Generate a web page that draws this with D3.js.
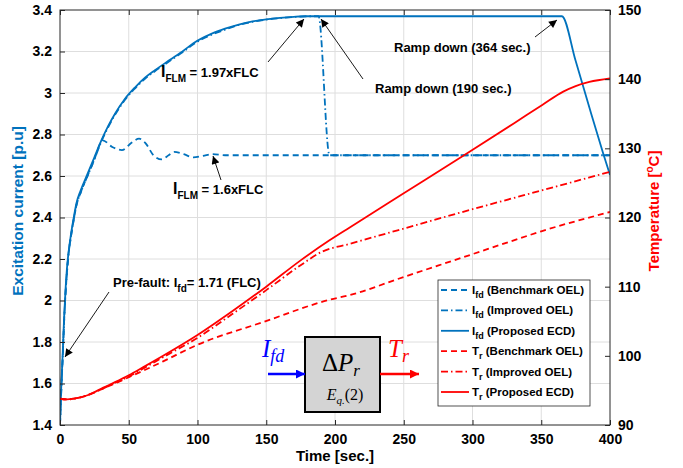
<!DOCTYPE html>
<html><head><meta charset="utf-8">
<script src="https://cdn.jsdelivr.net/npm/d3@7"></script>
<style>body{margin:0;background:#fff}svg{display:block}</style>
</head><body><svg id="c" width="683" height="468"></svg>
<script>
// ---------- data ----------
const xTicks = [0, 50, 100, 150, 200, 250, 300, 350, 400];
const yLeftTicks = [1.4, 1.6, 1.8, 2, 2.2, 2.4, 2.6, 2.8, 3, 3.2, 3.4];
const yRightTicks = [90, 100, 110, 120, 130, 140, 150];

// Excitation current, proposed ECD (solid)
const ifdEcdT = [0,1,2,3,4,5,6,8,10,12,15,20,25,30,35,40,47,55,62,69,80,90,97,110,120,130,140,150,160,170,180,200,250,300,350,365,375,385,395,400];
const ifdEcdV = [1.4,1.6,1.75,1.92,2.05,2.15,2.22,2.32,2.4,2.47,2.53,2.61,2.69,2.77,2.84,2.9,2.97,3.03,3.075,3.11,3.16,3.205,3.24,3.285,3.31,3.33,3.345,3.355,3.362,3.367,3.37,3.37,3.37,3.37,3.37,3.37,3.155,2.93,2.71,2.605];
// Excitation current, improved OEL (dash-dot)
const ifdImpT = [0,1,2,3,4,5,6,8,10,12,15,20,25,30,35,40,47,55,62,69,80,90,97,110,120,130,140,150,160,170,180,188,196,250,300,350,400];
const ifdImpV = [1.4,1.58,1.73,1.9,2.03,2.13,2.21,2.31,2.39,2.46,2.52,2.6,2.68,2.765,2.835,2.895,2.965,3.025,3.07,3.105,3.155,3.2,3.235,3.28,3.305,3.328,3.343,3.354,3.361,3.366,3.37,3.37,2.70,2.70,2.70,2.70,2.70];
// Excitation current, benchmark OEL (dashed)
const ifdBenT = [0,1,2,3,4,5,6,8,10,12,15,20,25,30,31,38,45,52,57.5,62,68,74,79,83,90,97,104,111,120,200,300,400];
const ifdBenV = [1.4,1.58,1.73,1.9,2.03,2.13,2.21,2.31,2.39,2.46,2.52,2.6,2.68,2.765,2.772,2.74,2.725,2.76,2.78,2.76,2.70,2.68,2.70,2.716,2.705,2.69,2.697,2.705,2.70,2.70,2.70,2.70];

// Temperature, proposed ECD (solid)
const trEcdT = [0,5,10,20,31.5,40,50,60,75,100,125,150,175,196,211,250,293,330,351,366,375,385,400];
const trEcdV = [93.8,93.7,93.8,94.3,95.4,96.2,97.2,98.3,100.0,103.0,106.4,110.0,113.8,116.7,118.6,123.5,128.9,133.6,136.3,138.2,139.0,139.6,140.1];
// Temperature, improved OEL (dash-dot)
const trImpT = [0,5,10,20,31.5,40,50,60,75,100,125,150,175,190,211,250,300,350,400];
const trImpV = [93.8,93.7,93.8,94.3,95.3,96.1,97.0,98.1,99.8,102.6,106.0,109.5,113.1,115.0,116.2,118.4,121.2,123.9,126.6];
// Temperature, benchmark OEL (dashed)
const trBenT = [0,5,10,20,31.5,40,50,60,75,100,148,196,211,250,300,327,350,400];
const trBenV = [93.8,93.7,93.8,94.3,95.3,96.0,96.9,97.8,99.2,101.6,104.9,108.1,108.8,111.4,114.7,116.5,118.0,120.8];

const legendLabels = [
  ["I","fd"," (Benchmark OEL)"],
  ["I","fd"," (Improved OEL)"],
  ["I","fd"," (Proposed ECD)"],
  ["T","r"," (Benchmark OEL)"],
  ["T","r"," (Improved OEL)"],
  ["T","r"," (Proposed ECD)"]
];

// ---------- layout ----------
const L = 60, R = 610, T = 10, B = 425;
const BLUE = "#0072BD", RED = "#FF0000";
const DASH = "6,4", DASHDOT = "7,3,1.5,3";
const FONT = "'Liberation Sans', Arial, Helvetica, sans-serif";
const SERIF = "'Liberation Serif', 'DejaVu Serif', serif";

const svg = d3.select("#c");
const x = d3.scaleLinear().domain([0, 400]).range([L, R]);
const yL = d3.scaleLinear().domain([1.4, 3.4]).range([B, T]);
const yR = d3.scaleLinear().domain([90, 150]).range([B, T]);

const defs = svg.append("defs");
defs.append("clipPath").attr("id","clip").append("rect")
  .attr("x", L).attr("y", T).attr("width", R-L).attr("height", B-T);
function marker(id, color, w, h) {
  defs.append("marker").attr("id", id).attr("viewBox","0 0 10 10")
    .attr("refX", 10).attr("refY", 5).attr("markerWidth", w).attr("markerHeight", h)
    .attr("markerUnits","userSpaceOnUse").attr("orient","auto")
    .append("path").attr("d","M0,0 L10,5 L0,10 z").attr("fill", color);
}
marker("arrK", "#000", 10, 8);
marker("arrB", "#0000FF", 11, 9);
marker("arrR", "#FF0000", 11, 9);

// grid
const grid = svg.append("g").attr("stroke", "#dedede").attr("stroke-width", 1);
xTicks.slice(1, -1).forEach(t => grid.append("line")
  .attr("x1", x(t)).attr("x2", x(t)).attr("y1", T).attr("y2", B));
yLeftTicks.slice(1, -1).forEach(t => grid.append("line")
  .attr("x1", L).attr("x2", R).attr("y1", yL(t)).attr("y2", yL(t)));

// series
const plot = svg.append("g").attr("clip-path", "url(#clip)").attr("fill", "none");
function draw(ts, vs, ys, color, dash) {
  const pts = ts.map((t, i) => [t, vs[i]]);
  plot.append("path").datum(pts)
    .attr("d", d3.line().curve(d3.curveMonotoneX).x(d => x(d[0])).y(d => ys(d[1])))
    .attr("stroke", color).attr("stroke-width", 1.8)
    .attr("stroke-linejoin", "round")
    .attr("stroke-dasharray", dash || null);
}
draw(ifdBenT, ifdBenV, yL, BLUE, DASH);
draw(ifdImpT, ifdImpV, yL, BLUE, DASHDOT);
draw(ifdEcdT, ifdEcdV, yL, BLUE, null);
draw(trBenT, trBenV, yR, RED, DASH);
draw(trImpT, trImpV, yR, RED, DASHDOT);
draw(trEcdT, trEcdV, yR, RED, null);

// axes
const axStyle = g => {
  g.select(".domain").remove();
  g.selectAll("text").attr("font-family", FONT).attr("font-weight", "bold")
    .attr("font-size", 14).attr("fill", "#000");
  g.selectAll("line").attr("stroke", "#262626");
};
svg.append("g").attr("transform", `translate(0,${B})`)
  .call(d3.axisBottom(x).tickValues(xTicks).tickSize(-5).tickPadding(9).tickFormat(d3.format("d")))
  .call(axStyle);
svg.append("g").attr("transform", `translate(0,${T})`)
  .call(d3.axisTop(x).tickValues(xTicks).tickSize(-5).tickFormat(""))
  .call(axStyle);
svg.append("g").attr("transform", `translate(${L},0)`)
  .call(d3.axisLeft(yL).tickValues(yLeftTicks).tickSize(-5).tickPadding(8).tickFormat(d => d3.format("")(+d.toFixed(1))))
  .call(axStyle);
svg.append("g").attr("transform", `translate(${R},0)`)
  .call(d3.axisRight(yR).tickValues(yRightTicks).tickSize(-5).tickPadding(8).tickFormat(d3.format("d")))
  .call(axStyle);
svg.append("rect").attr("x", L).attr("y", T).attr("width", R-L).attr("height", B-T)
  .attr("fill", "none").attr("stroke", "#262626").attr("stroke-width", 1);

// axis titles
svg.append("text").attr("x", (L+R)/2).attr("y", 461).attr("text-anchor", "middle")
  .attr("font-family", FONT).attr("font-weight", "bold").attr("font-size", 15).text("Time [sec.]");
svg.append("text").attr("transform", `translate(23,211) rotate(-90)`).attr("text-anchor", "middle")
  .attr("font-family", FONT).attr("font-weight", "bold").attr("font-size", 15.5).attr("fill", BLUE)
  .text("Excitation current [p.u]");
const rt = svg.append("text").attr("transform", `translate(659,211) rotate(-90)`).attr("text-anchor", "middle")
  .attr("font-family", FONT).attr("font-weight", "bold").attr("font-size", 15).attr("fill", RED);
rt.append("tspan").text("Temperature [");
rt.append("tspan").attr("font-size", 10).attr("dy", -6).text("o");
rt.append("tspan").attr("dy", 6).text("C]");

// annotations
const ann = svg.append("g").attr("font-family", FONT).attr("font-weight", "bold");
function arrow(x1, y1, x2, y2) {
  ann.append("line").attr("x1", x1).attr("y1", y1).attr("x2", x2).attr("y2", y2)
    .attr("stroke", "#000").attr("stroke-width", 0.9).attr("marker-end", "url(#arrK)");
}
function subText(px, py, main, sub, rest, mainSize) {
  const t = ann.append("text").attr("x", px).attr("y", py).attr("font-size", 13);
  t.append("tspan").attr("font-size", mainSize).text(main);
  t.append("tspan").attr("font-size", 10).attr("dy", 5).text(sub);
  t.append("tspan").attr("dy", -5).text(rest);
}
subText(161, 77, "I", "FLM", " = 1.97xFLC", 16);
arrow(268, 62, 304, 19);
subText(173, 194, "I", "FLM", " = 1.6xFLC", 16);
arrow(221, 180, 213, 156);
subText(113, 287, "Pre-fault: I", "fd", "= 1.71 (FLC)", 13);
arrow(109, 292, 65, 357);
ann.append("text").attr("x", 375).attr("y", 93).attr("font-size", 13).text("Ramp down (190 sec.)");
arrow(363, 79, 321, 19);
ann.append("text").attr("x", 394).attr("y", 52).attr("font-size", 13).text("Ramp down (364 sec.)");
arrow(535, 37, 557, 20);

// block diagram
const blk = svg.append("g");
blk.append("rect").attr("x", 305).attr("y", 337).attr("width", 75).attr("height", 75)
  .attr("fill", "#d4d4d4").attr("stroke", "#000").attr("stroke-width", 2);
const dp = blk.append("text").attr("x", 341).attr("y", 371).attr("text-anchor", "middle")
  .attr("font-family", SERIF).attr("font-size", 25);
dp.append("tspan").text("Δ");
dp.append("tspan").attr("font-style", "italic").text("P");
dp.append("tspan").attr("font-style", "italic").attr("font-size", 17).attr("dy", 5).text("r");
const eq = blk.append("text").attr("x", 345).attr("y", 400).attr("text-anchor", "middle")
  .attr("font-family", SERIF).attr("font-size", 16);
eq.append("tspan").attr("font-style", "italic").text("E");
eq.append("tspan").attr("font-style", "italic").attr("font-size", 11).attr("dy", 4).text("q.");
eq.append("tspan").attr("dy", -4).text("(2)");
const ifd = blk.append("text").attr("x", 262).attr("y", 357).attr("font-family", SERIF)
  .attr("font-style", "italic").attr("font-size", 25).attr("fill", "#0000FF");
ifd.append("tspan").text("I");
ifd.append("tspan").attr("font-size", 18).attr("dy", 5).text("fd");
const tr = blk.append("text").attr("x", 388).attr("y", 357).attr("font-family", SERIF)
  .attr("font-style", "italic").attr("font-size", 25).attr("fill", "#FF0000");
tr.append("tspan").text("T");
tr.append("tspan").attr("font-size", 18).attr("dy", 5).text("r");
blk.append("line").attr("x1", 268).attr("y1", 374).attr("x2", 305).attr("y2", 374)
  .attr("stroke", "#0000FF").attr("stroke-width", 2.5).attr("marker-end", "url(#arrB)");
blk.append("line").attr("x1", 380).attr("y1", 374).attr("x2", 419).attr("y2", 374)
  .attr("stroke", "#FF0000").attr("stroke-width", 2.5).attr("marker-end", "url(#arrR)");

// legend
const lg = svg.append("g");
lg.append("rect").attr("x", 438).attr("y", 280).attr("width", 152).attr("height", 126)
  .attr("fill", "#fff").attr("stroke", "#262626").attr("stroke-width", 0.8);
const lgColors = [BLUE, BLUE, BLUE, RED, RED, RED];
const lgDash = [DASH, DASHDOT, null, DASH, DASHDOT, null];
const lgY = d3.scaleLinear().domain([0, 5]).range([290, 392]);
legendLabels.forEach((lab, i) => {
  const yy = lgY(i);
  lg.append("line").attr("x1", 441).attr("x2", 469).attr("y1", yy).attr("y2", yy)
    .attr("stroke", lgColors[i]).attr("stroke-width", 1.8).attr("stroke-dasharray", lgDash[i]);
  const t = lg.append("text").attr("x", 472).attr("y", yy + 4).attr("font-family", FONT)
    .attr("font-weight", "bold").attr("font-size", 11.5);
  t.append("tspan").text(lab[0]);
  t.append("tspan").attr("font-size", 9).attr("dy", 4).text(lab[1]);
  t.append("tspan").attr("dy", -4).text(lab[2]);
});
</script>
</body></html>
